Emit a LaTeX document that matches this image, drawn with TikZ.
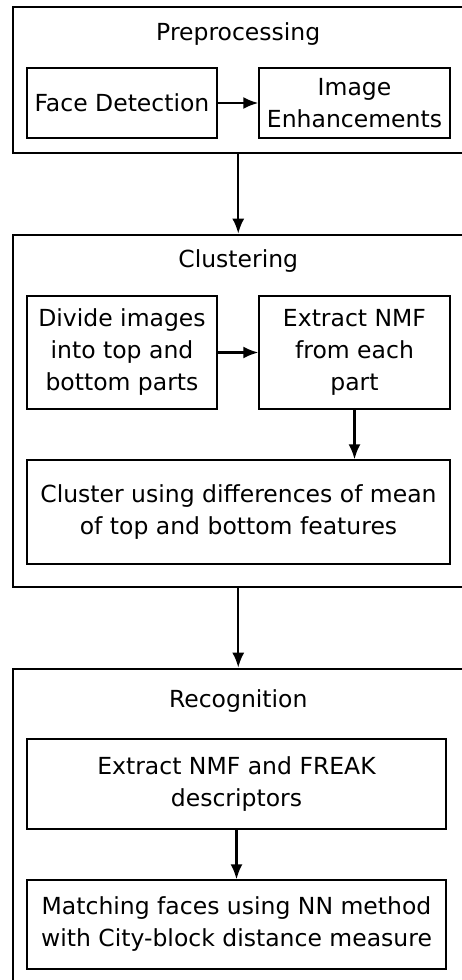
\documentclass[tikz,border=0pt]{standalone}
\usepackage{fontspec}
\setmainfont{DejaVu Sans}
\usepackage{tikz}
\usetikzlibrary{arrows.meta}
\tikzset{
  stage/.style={draw, line width=2.6pt, inner sep=0pt},
  proc/.style={draw, line width=1.3pt, inner sep=0pt, align=center,
    font=\fontsize{23.5}{32}\selectfont},
  title/.style={font=\fontsize{23.5}{32}\selectfont},
  flow/.style={line width=2.3pt, -{Latex[length=15pt,width=12pt]}}
}
\newcommand{\stagenode}[4] {\node at (#1) (#2) [stage, minimum width=450.5pt, minimum height=#3] {}; \node at (#4) [title] {\strut\csname stitle#2\endcsname};}
\newcommand{\procnode}[5] {\node at (#1) (#2) [proc, minimum width=#3, minimum height=#4] {#5};}
\newcommand{\flowarrow}[2] {\draw [flow] (#1) -- (#2);}
\newcommand{\stitlepre}{Preprocessing}
\newcommand{\stitleclu}{Clustering}
\newcommand{\stitlerec}{Recognition}

\begin{document}
\begin{tikzpicture}[x=1pt, y=1pt]
\useasboundingbox (0,0) rectangle (462,-980);

% stages
\stagenode {238.25,-80}  {pre} {146pt} {238.25,-34};
\stagenode {238.25,-411} {clu} {352pt} {238.25,-261};
\stagenode {238.25,-839.5} {rec} {341pt} {238.25,-701};

% preprocessing
\procnode {122,-103}   {fd} {190pt} {70pt} {Face Detection};
\procnode {354.5,-103} {ie} {191pt} {70pt} {Image\\Enhancements};

% clustering
\procnode {122,-352.5}   {div} {190pt} {113pt} {Divide images\\into top and\\bottom parts};
\procnode {354.5,-352.5} {ext} {191pt} {113pt} {Extract NMF\\from each\\part};
\procnode {238.5,-512}   {cls} {423pt} {104pt} {Cluster using differences of mean\\of top and bottom features};

% recognition
\procnode {236.5,-784}   {frk} {419pt} {90pt} {Extract NMF and FREAK\\descriptors};
\procnode {236.5,-924.5} {mat} {419pt} {89pt} {Matching faces using NN method\\with City-block distance measure};

\flowarrow{fd}{ie};
\flowarrow{pre.south}{clu.north};
\flowarrow{div}{ext};
\flowarrow{ext.south}{ext.south |- cls.north};
\flowarrow{clu.south}{rec.north};
\flowarrow{frk}{mat};

\end{tikzpicture}
\end{document}
